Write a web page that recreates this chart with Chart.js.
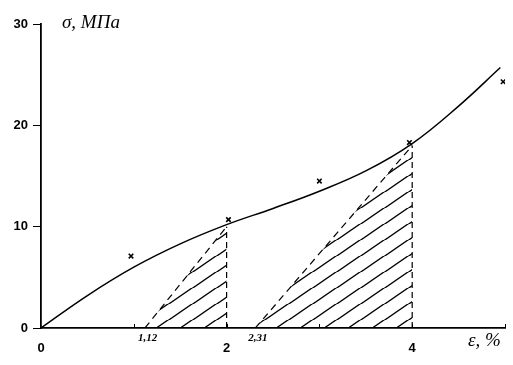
<!DOCTYPE html>
<html>
<head>
<meta charset="utf-8">
<script src="https://cdn.jsdelivr.net/npm/chart.js@4"></script>
<style>
  html, body { margin: 0; padding: 0; background: #fff; }
</style>
</head>
<body>
<canvas id="chart" width="513" height="365"></canvas>
<script>
// loading curve
const curveX = [0, 0.5, 1, 1.5, 2, 2.5, 3, 3.5, 4, 4.5, 4.95]
const curveY = [0, 3.2, 6.0, 8.3, 10.2, 11.8, 13.5, 15.5, 18.2, 21.9, 25.7]

// measured points (x marks)
const markX = [0.97, 2.02, 3.0, 3.97, 4.98]
const markY = [7.1, 10.7, 14.5, 18.3, 24.3]

// unloading triangles
const unloadStart = [1.12, 2.31]
const unloadLabels = ['1,12', '2,31']
const unloadEnd = [2, 4]
const unloadTop = [10.0, 18.0]

const xTicks = [0, 1, 2, 3, 4, 5]
const xTickLabels = { 0: '0', 2: '2', 4: '4' }

function hatchPattern() {
  const w = 24, h = 16.5
  const p = document.createElement('canvas')
  p.width = w
  p.height = h
  const g = p.getContext('2d')
  g.strokeStyle = '#000'
  g.lineWidth = 1.4
  for (const c of [0, w, 2 * w]) {
    g.beginPath()
    g.moveTo(c - 2 * w, 2 * h)
    g.lineTo(c + w, -h)
    g.stroke()
  }
  return document.getElementById('chart').getContext('2d').createPattern(p, 'repeat')
}

const datasets = [
  {
    data: curveX.map((x, i) => ({ x, y: curveY[i] })),
    borderColor: '#000',
    borderWidth: 1.5,
    pointRadius: 0,
    tension: 0.4,
    fill: false
  },
  {
    data: markX.map((x, i) => ({ x, y: markY[i] })),
    showLine: false,
    pointStyle: 'crossRot',
    pointRadius: 3.2,
    pointBorderWidth: 1.6,
    pointBorderColor: '#000',
    fill: false
  }
]

const pattern = hatchPattern()
unloadStart.forEach((s, i) => {
  // dashed unloading line, hatched down to the axis
  datasets.push({
    data: [{ x: s, y: 0 }, { x: unloadEnd[i], y: unloadTop[i] }],
    borderColor: '#000',
    borderWidth: 1.2,
    borderDash: [7, 5],
    pointRadius: 0,
    fill: 'origin',
    backgroundColor: pattern
  })
  datasets.push({
    data: [{ x: unloadEnd[i], y: 0 }, { x: unloadEnd[i], y: unloadTop[i] }],
    borderColor: '#000',
    borderWidth: 1.2,
    borderDash: [6, 4],
    pointRadius: 0,
    fill: false
  })
})

const annotate = {
  id: 'annotate',
  afterDraw(chart) {
    const { ctx, chartArea, scales: { x } } = chart
    ctx.save()
    ctx.strokeStyle = '#000'
    ctx.lineWidth = 1
    xTicks.forEach(v => {
      if (v === 0) return
      const px = Math.round(x.getPixelForValue(v)) + 0.5
      ctx.beginPath()
      ctx.moveTo(px, chartArea.bottom)
      ctx.lineTo(px, chartArea.bottom - 4)
      ctx.stroke()
    })
    ctx.fillStyle = '#000'
    ctx.textBaseline = 'alphabetic'
    ctx.font = 'italic bold 11px "Liberation Serif"'
    unloadStart.forEach((v, i) => {
      ctx.fillText(unloadLabels[i], x.getPixelForValue(v) - 7, chartArea.bottom + 13)
    })
    ctx.font = 'italic 19px "Liberation Serif"'
    ctx.fillText('σ, МПа', chartArea.left + 21, chartArea.top + 4)
    ctx.font = 'italic 19px "Liberation Serif"'
    ctx.fillText('ε, %', chartArea.right - 37, chartArea.bottom + 18)
    ctx.restore()
  }
}

new Chart(document.getElementById('chart'), {
  type: 'line',
  data: { datasets },
  plugins: [annotate],
  options: {
    responsive: false,
    animation: false,
    layout: { padding: { top: 24, right: 8, bottom: 0, left: 0 } },
    plugins: {
      legend: { display: false },
      tooltip: { enabled: false }
    },
    scales: {
      x: {
        type: 'linear',
        min: 0,
        max: 5,
        afterFit: s => {
          s.height = 37
          s.paddingLeft = 0
          s.paddingRight = 0
        },
        afterBuildTicks: s => { s.ticks = xTicks.map(v => ({ value: v })) },
        ticks: {
          color: '#000',
          padding: 13,
          font: { family: 'Liberation Sans', size: 13, weight: 'bold' },
          callback: v => xTickLabels[v] ?? ''
        },
        grid: { drawOnChartArea: false, drawTicks: false },
        border: { color: '#000', width: 1.8 }
      },
      y: {
        min: 0,
        max: 30,
        afterFit: s => { s.width = 41 },
        ticks: {
          stepSize: 10,
          color: '#000',
          padding: 5,
          font: { family: 'Liberation Sans', size: 13, weight: 'bold' }
        },
        grid: { drawOnChartArea: false, tickLength: 8, color: '#000' },
        border: { color: '#000', width: 1.8 }
      }
    }
  }
})
</script>
</body>
</html>
